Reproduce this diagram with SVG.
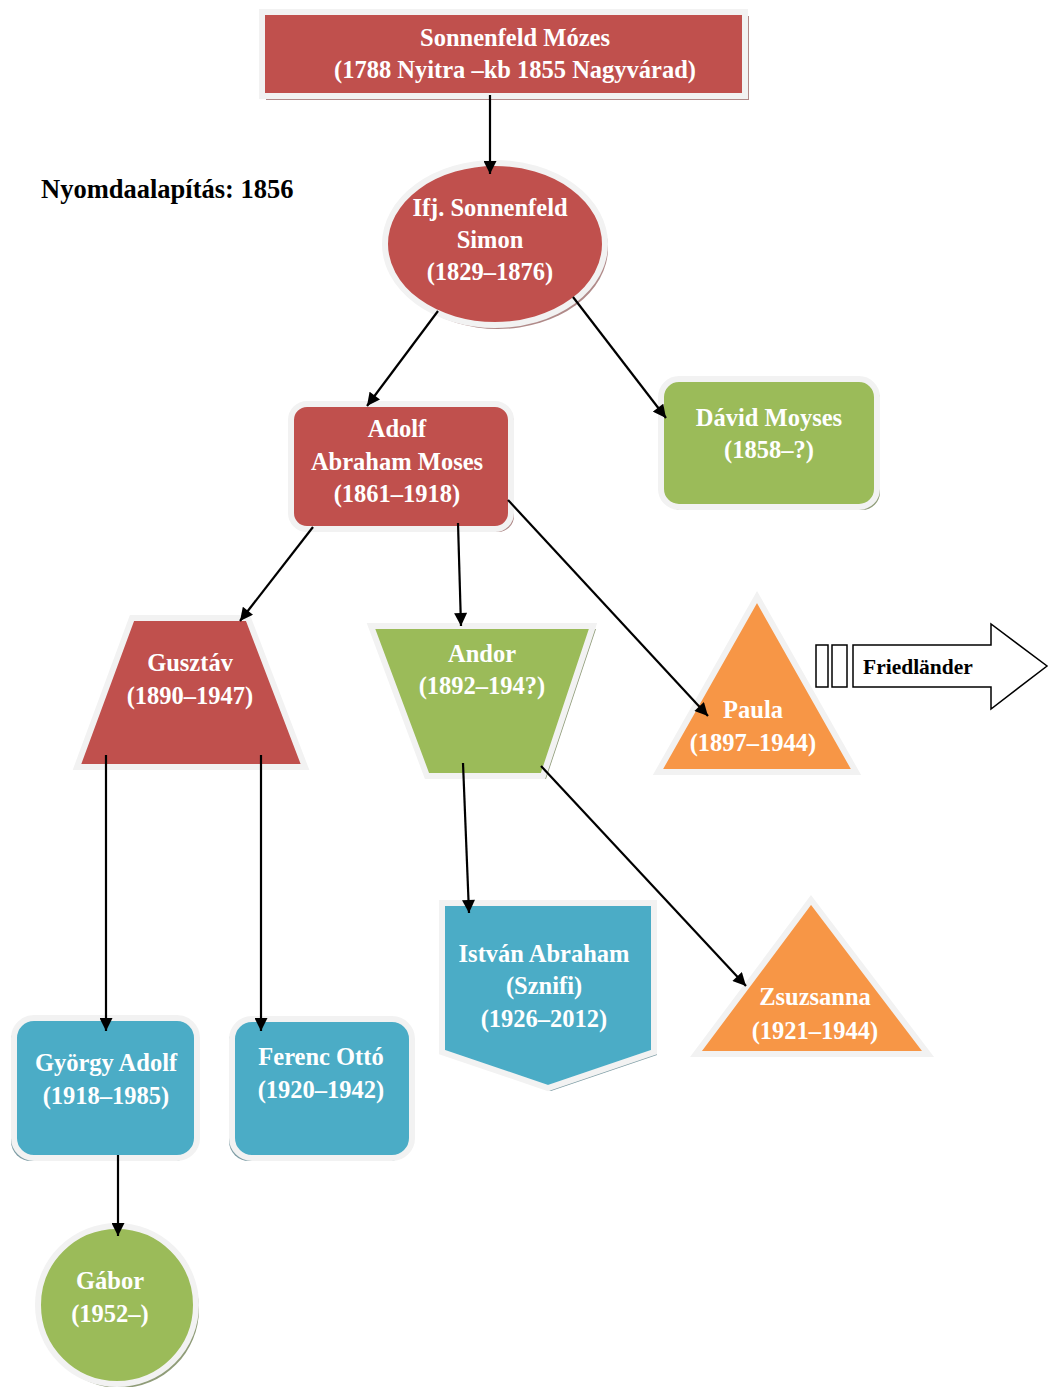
<svg xmlns="http://www.w3.org/2000/svg" width="1049" height="1387" viewBox="0 0 1049 1387">
<defs>
<marker id="ah" viewBox="0 0 10 10" refX="10" refY="5" markerWidth="14" markerHeight="13" markerUnits="userSpaceOnUse" orient="auto"><path d="M0,0 L10,5 L0,10 z" fill="#000"/></marker>
</defs>
<style>
.red{fill:#c0504d;stroke:#f2f2f2;stroke-width:6}
.green{fill:#9bbb59;stroke:#f2f2f2;stroke-width:6}
.blue{fill:#4bacc6;stroke:#f2f2f2;stroke-width:6}
.orange{fill:#f79646;stroke:#f2f2f2;stroke-width:6}
.shr{fill:#b08a89}
.shg{fill:#8f9c78}
.shb{fill:#7f9ea6}
.sho{fill:#c9a488}
.t{font-family:"Liberation Serif","Times New Roman",serif;font-weight:bold;font-size:24.5px;fill:#fff;text-anchor:middle}
.k{font-family:"Liberation Serif","Times New Roman",serif;font-weight:bold;fill:#000}
.c{stroke:#000;stroke-width:2.2;fill:none;marker-end:url(#ah)}
</style>
<rect width="1049" height="1387" fill="#fff"/>

<g id="n-mozes">
<rect x="266" y="16" width="483" height="84" class="shr"/>
<rect x="262" y="12" width="483" height="84" class="red"/>
<text class="t" x="515" y="46">Sonnenfeld Mózes</text>
<text class="t" x="515" y="78">(1788 Nyitra –kb 1855 Nagyvárad)</text>
</g>

<g id="n-simon">
<ellipse cx="498" cy="248" rx="110" ry="81" class="shr"/>
<ellipse cx="495" cy="244" rx="110" ry="81" class="red"/>
<text class="t" x="490" y="216">Ifj. Sonnenfeld</text>
<text class="t" x="490" y="248">Simon</text>
<text class="t" x="490" y="280">(1829–1876)</text>
</g>

<g id="n-adolf">
<rect x="294" y="407" width="220" height="125" rx="16" class="shr"/>
<rect x="291" y="404" width="220" height="125" rx="16" class="red"/>
<text class="t" x="397" y="437">Adolf</text>
<text class="t" x="397" y="470">Abraham Moses</text>
<text class="t" x="397" y="502">(1861–1918)</text>
</g>

<g id="n-david">
<rect x="664" y="382" width="216" height="128" rx="18" class="shg"/>
<rect x="661" y="379" width="216" height="128" rx="18" class="green"/>
<text class="t" x="769" y="426">Dávid Moyses</text>
<text class="t" x="769" y="458">(1858–?)</text>
</g>

<g id="n-gusztav">
<polygon points="135,621 251,621 308,770 80,770" class="shr"/>
<polygon points="132,618 248,618 305,767 77,767" class="red"/>
<text class="t" x="190" y="671">Gusztáv</text>
<text class="t" x="190" y="704">(1890–1947)</text>
</g>

<g id="n-andor">
<polygon points="374,629 596,629 546,779 430,779" class="shg"/>
<polygon points="371,626 593,626 543,776 427,776" class="green"/>
<text class="t" x="482" y="662">Andor</text>
<text class="t" x="482" y="694">(1892–194?)</text>
</g>

<g id="n-paula">
<polygon points="757,600 859,775 659,775" class="sho"/>
<polygon points="757,597 856,772 658,772" class="orange"/>
<text class="t" x="753" y="718">Paula</text>
<text class="t" x="753" y="751">(1897–1944)</text>
</g>

<g id="n-friedlander">
<rect x="816" y="645" width="12" height="42" fill="#fff" stroke="#000" stroke-width="1.5"/>
<rect x="832" y="645" width="15" height="42" fill="#fff" stroke="#000" stroke-width="1.5"/>
<polygon points="853,645 991,645 991,624 1047,666 991,709 991,687 853,687" fill="#fff" stroke="#000" stroke-width="1.5"/>
<text class="k" x="863" y="674" font-size="21.5">Friedländer</text>
</g>

<g id="n-istvan">
<polygon points="445,906 657,906 657,1055 551,1091 445,1055" class="shb"/>
<polygon points="442,903 654,903 654,1052 548,1088 442,1052" class="blue"/>
<text class="t" x="544" y="962">István Abraham</text>
<text class="t" x="544" y="994">(Sznifi)</text>
<text class="t" x="544" y="1027">(1926–2012)</text>
</g>

<g id="n-zsuzsanna">
<polygon points="811,903 931,1057 699,1057" class="sho"/>
<polygon points="811,900 928,1054 696,1054" class="orange"/>
<text class="t" x="815" y="1005">Zsuzsanna</text>
<text class="t" x="815" y="1039">(1921–1944)</text>
</g>

<g id="n-gyorgy">
<rect x="11" y="1021" width="183" height="140" rx="20" class="shb"/>
<rect x="14" y="1018" width="183" height="140" rx="20" class="blue"/>
<text class="t" x="106" y="1071">György Adolf</text>
<text class="t" x="106" y="1104">(1918–1985)</text>
</g>

<g id="n-ferenc">
<rect x="229" y="1022" width="180" height="139" rx="20" class="shb"/>
<rect x="232" y="1019" width="180" height="139" rx="20" class="blue"/>
<text class="t" x="321" y="1065">Ferenc Ottó</text>
<text class="t" x="321" y="1098">(1920–1942)</text>
</g>

<g id="n-gabor">
<circle cx="120" cy="1309" r="79" class="shg"/>
<circle cx="117" cy="1305" r="79" class="green"/>
<text class="t" x="110" y="1289">Gábor</text>
<text class="t" x="110" y="1322">(1952–)</text>
</g>

<g id="note">
<text class="k" x="41" y="198" font-size="26.5">Nyomdaalapítás: 1856</text>
</g>

<g id="connectors">
<line class="c" x1="490" y1="95" x2="490" y2="174"/>
<line class="c" x1="438" y1="311" x2="367" y2="406"/>
<line class="c" x1="573" y1="297" x2="666" y2="418"/>
<line class="c" x1="313" y1="527" x2="240" y2="621"/>
<line class="c" x1="458" y1="523" x2="461" y2="626"/>
<line class="c" x1="508" y1="500" x2="708" y2="716"/>
<line class="c" x1="106" y1="755" x2="106" y2="1031"/>
<line class="c" x1="261" y1="755" x2="261" y2="1031"/>
<line class="c" x1="463" y1="763" x2="469" y2="913"/>
<line class="c" x1="541" y1="766" x2="746" y2="986"/>
<line class="c" x1="118" y1="1155" x2="118" y2="1236"/>
</g>
</svg>
